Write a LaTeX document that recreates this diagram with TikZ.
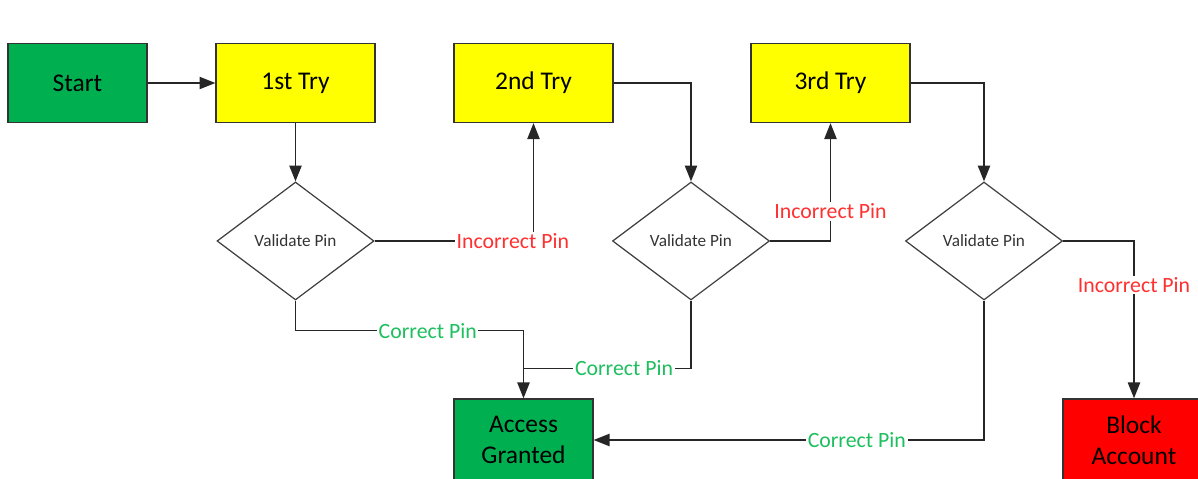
\documentclass[tikz,border=0pt]{standalone}
\usepackage{fontspec}
\setmainfont{Carlito}
\usetikzlibrary{shapes.geometric}
\usetikzlibrary{arrows.meta}

\definecolor{okgreen}{HTML}{00B050}
\definecolor{tryyellow}{HTML}{FFFF00}
\definecolor{stopred}{HTML}{FF0000}
\definecolor{badtext}{HTML}{FF3030}
\definecolor{goodtext}{HTML}{1DBF5E}

\tikzset{
  box/.style={draw=black!80, line width=0.8pt, minimum width=3.18cm, minimum height=1.58cm,
    align=center, inner sep=0pt, font=\fontsize{14.5}{17.6}\selectfont},
  check/.style={draw=black!75, line width=0.7pt, diamond, minimum width=3.14cm,
    minimum height=2.36cm, inner sep=0pt, text=black!80, font=\fontsize{9.8}{11}\selectfont},
  link/.style={draw=black!85, line width=0.75pt},
  arr/.style={link, -{Triangle[length=9pt,width=7pt]}},
  bad/.style={fill=white, text=badtext, inner sep=1pt, font=\fontsize{12.4}{14}\selectfont},
  good/.style={fill=white, text=goodtext, inner sep=1pt, font=\fontsize{12.4}{14}\selectfont},
}

\begin{document}
\begin{tikzpicture}[x=0.02cm,y=-0.02cm]
\useasboundingbox (0,0) rectangle (1198,479);

% tries along the top row
\node[box, fill=okgreen, minimum width=2.78cm] (start) at (77.5,83) {Start};
\node[box, fill=tryyellow] (try1) at (295.5,83) {1st Try};
\node[box, fill=tryyellow] (try2) at (533.5,83) {2nd Try};
\node[box, fill=tryyellow] (try3) at (830.5,83) {3rd Try};

% pin checks
\node[check] (pin1) at (295.5,241) {Validate Pin};
\node[check] (pin2) at (691,241) {Validate Pin};
\node[check] (pin3) at (984,241) {Validate Pin};

% outcomes (run off the lower edge)
\node[box, fill=okgreen, minimum width=2.78cm, minimum height=1.64cm] (granted) at (523.5,440) {Access\\Granted};
\node[box, fill=stopred, minimum width=2.84cm, minimum height=1.64cm] (block) at (1134,440) {Block\\Account};

\draw[arr] (start) -- (try1);
\draw[arr] (try1) -- (pin1);
\draw[arr] (try2.east) -| (pin2.north);
\draw[arr] (try3.east) -| (pin3.north);

% wrong pin goes to the next try
\draw[arr] (pin1.east) -| node[pos=0.435, bad] {Incorrect Pin} (try2.south);
\draw[arr] (pin2.east) -| node[pos=0.625, bad] {Incorrect Pin} (try3.south);
\draw[arr] (pin3.east) -| node[pos=0.64, bad] {Incorrect Pin} (block.north);

% right pin
\path (granted.north) ++(0,-30) coordinate (join);
\draw[arr] (pin1.south) -- ++(0,30) -| node[pos=0.29, good] {Correct Pin} (granted.north);
\draw[link] (pin2.south) |- node[pos=0.7, good] {Correct Pin} (join);
\draw[arr] (pin3.south) |- node[pos=0.663, good] {Correct Pin} (granted.east);
\end{tikzpicture}
\end{document}
